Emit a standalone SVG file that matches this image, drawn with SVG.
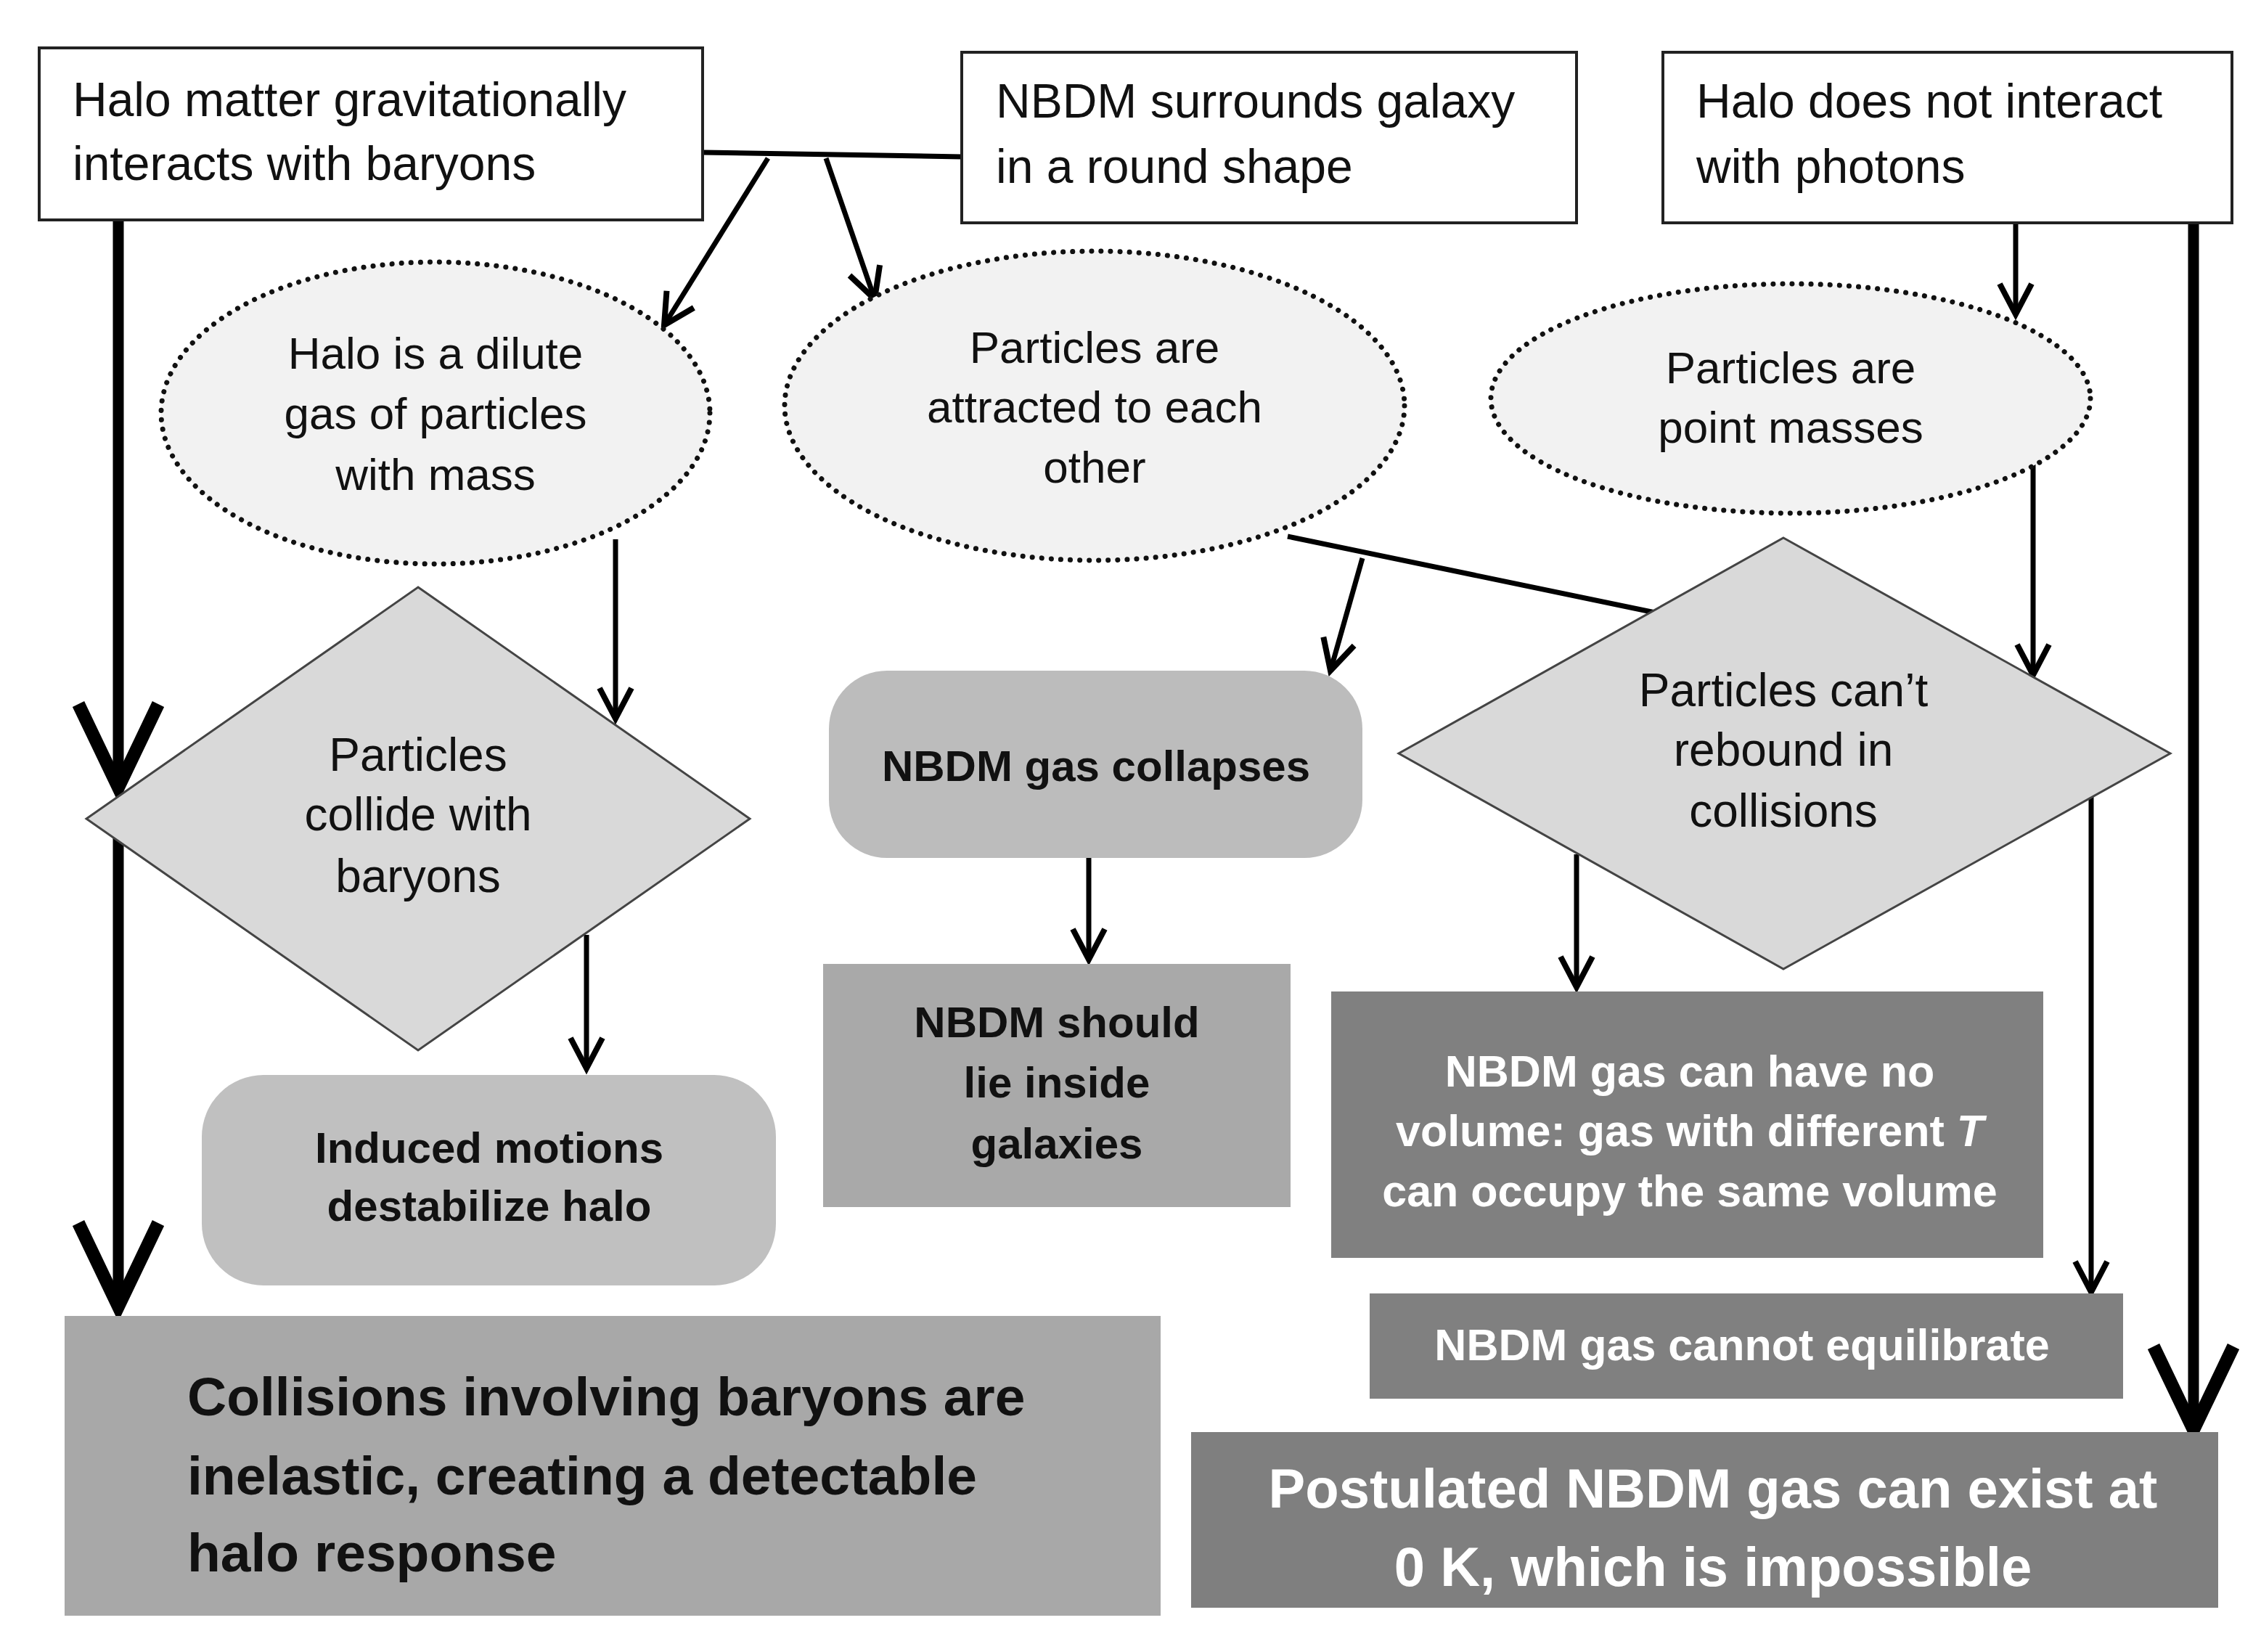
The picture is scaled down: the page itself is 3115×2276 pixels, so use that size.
<svg xmlns="http://www.w3.org/2000/svg" width="3115" height="2276" viewBox="0 0 3115 2276">
<style>
text{font-family:"Liberation Sans",Arial,sans-serif;}
.t{font-size:66px;fill:#111;}
.e{font-size:62px;fill:#111;text-anchor:middle;}
.d{font-size:64px;fill:#111;text-anchor:middle;}
.b{font-size:60px;font-weight:bold;fill:#111;text-anchor:middle;}
.w{font-size:61px;font-weight:bold;fill:#fff;text-anchor:middle;}
.box{fill:#fff;stroke:#222;stroke-width:4;}
.ell{fill:#f2f2f2;stroke:#111;stroke-width:7;stroke-dasharray:0.1 13;stroke-linecap:round;}
.dia{fill:#d9d9d9;stroke:#444;stroke-width:3;}
.c{stroke:#000;fill:none;stroke-width:7;}
.k{stroke:#000;fill:none;stroke-width:15;}
</style>
<defs>
<marker id="a" markerUnits="userSpaceOnUse" markerWidth="100" markerHeight="100" viewBox="-50 -50 100 100" refX="0" refY="0" orient="auto" overflow="visible">
<path d="M-42,-22 L0,0 L-42,22" fill="none" stroke="#000" stroke-width="8"/>
</marker>
<marker id="A" markerUnits="userSpaceOnUse" markerWidth="260" markerHeight="260" viewBox="-130 -130 260 260" refX="0" refY="0" orient="auto" overflow="visible">
<path d="M-115,-55 L0,0 L-115,55" fill="none" stroke="#000" stroke-width="18" stroke-linejoin="miter"/>
</marker>
</defs>
<rect width="3115" height="2276" fill="#fff"/>
<g id="connectors">
<path class="c" d="M968,210 L1325,216" stroke-width="9"/>
<path class="c" d="M1058,218 L915,448" marker-end="url(#a)"/>
<path class="c" d="M1138,218 L1205,412" marker-end="url(#a)"/>
<path class="k" d="M163,303 L163,1085" marker-end="url(#A)"/>
<path class="k" d="M163,1155 L163,1800" marker-end="url(#A)"/>
<path class="c" d="M848,743 L848,990" marker-end="url(#a)"/>
<path class="c" d="M808,1288 L808,1472" marker-end="url(#a)"/>
<path class="c" d="M1774,739 L2285,845" stroke-width="9"/>
<path class="c" d="M1877,769 L1833,924" marker-end="url(#a)"/>
<path class="c" d="M1500,1182 L1500,1322" marker-end="url(#a)"/>
<path class="c" d="M2777,307 L2777,433" marker-end="url(#a)"/>
<path class="c" d="M2801,639 L2801,930" marker-end="url(#a)"/>
<path class="k" d="M3022,307 L3022,1970" marker-end="url(#A)"/>
<path class="c" d="M2172,1177 L2172,1360" marker-end="url(#a)"/>
<path class="c" d="M2881,1092 L2881,1780" marker-end="url(#a)"/>
</g>
<g id="n1"><rect class="box" x="54" y="66" width="914" height="237"/>
<text class="t" x="100" y="160">Halo matter gravitationally</text><text class="t" x="100" y="248">interacts with baryons</text></g>
<g id="n2"><rect class="box" x="1325" y="72" width="847" height="235"/>
<text class="t" x="1372" y="162">NBDM surrounds galaxy</text><text class="t" x="1372" y="252">in a round shape</text></g>
<g id="n3"><rect class="box" x="2291" y="72" width="784" height="235"/>
<text class="t" x="2337" y="162">Halo does not interact</text><text class="t" x="2337" y="252">with photons</text></g>
<g id="n4"><ellipse class="ell" cx="600" cy="569" rx="378" ry="208"/>
<text class="e" x="600" y="508">Halo is a dilute</text><text class="e" x="600" y="591">gas of particles</text><text class="e" x="600" y="675">with mass</text></g>
<g id="n5"><ellipse class="ell" cx="1508" cy="559" rx="427" ry="213"/>
<text class="e" x="1508" y="500">Particles are</text><text class="e" x="1508" y="582">attracted to each</text><text class="e" x="1508" y="665">other</text></g>
<g id="n6"><ellipse class="ell" cx="2467" cy="549" rx="413" ry="158"/>
<text class="e" x="2467" y="528">Particles are</text><text class="e" x="2467" y="610">point masses</text></g>
<g id="n7"><polygon class="dia" points="576,809 1033,1128 576,1447 119,1128"/>
<text class="d" x="576" y="1062">Particles</text><text class="d" x="576" y="1144">collide with</text><text class="d" x="576" y="1229">baryons</text></g>
<g id="n8"><polygon class="dia" points="2457,741 2990,1038 2457,1335 1927,1038"/>
<text class="d" x="2457" y="973">Particles can’t</text><text class="d" x="2457" y="1055">rebound in</text><text class="d" x="2457" y="1139">collisions</text></g>
<g id="n9"><rect x="1142" y="924" width="735" height="258" rx="80" fill="#bcbcbc"/>
<text class="b" x="1510" y="1076">NBDM gas collapses</text></g>
<g id="n10"><rect x="1134" y="1328" width="644" height="335" fill="#a9a9a9"/>
<text class="b" x="1456" y="1429">NBDM should</text><text class="b" x="1456" y="1512">lie inside</text><text class="b" x="1456" y="1596">galaxies</text></g>
<g id="n11"><rect x="278" y="1481" width="791" height="290" rx="85" fill="#c0c0c0"/>
<text class="b" x="674" y="1602">Induced motions</text><text class="b" x="674" y="1682">destabilize halo</text></g>
<g id="n12"><rect x="1834" y="1366" width="981" height="367" fill="#808080"/>
<text class="w" x="2328" y="1497">NBDM gas can have no</text><text class="w" x="2328" y="1579">volume: gas with different <tspan font-style="italic">T</tspan></text><text class="w" x="2328" y="1662">can occupy the same volume</text></g>
<g id="n13"><rect x="1887" y="1782" width="1038" height="145" fill="#808080"/>
<text class="w" x="2400" y="1874">NBDM gas cannot equilibrate</text></g>
<g id="n14"><rect x="89" y="1813" width="1510" height="413" fill="#a8a8a8"/>
<text x="258" y="1950" font-size="75" font-weight="bold" fill="#111">Collisions involving baryons are</text>
<text x="258" y="2059" font-size="75" font-weight="bold" fill="#111">inelastic, creating a detectable</text>
<text x="258" y="2165" font-size="75" font-weight="bold" fill="#111">halo response</text></g>
<g id="n15"><rect x="1641" y="1973" width="1415" height="242" fill="#7f7f7f"/>
<text x="2360" y="2077" font-size="76" font-weight="bold" fill="#fff" text-anchor="middle">Postulated NBDM gas can exist at</text>
<text x="2360" y="2185" font-size="76" font-weight="bold" fill="#fff" text-anchor="middle">0 K, which is impossible</text></g>
</svg>
